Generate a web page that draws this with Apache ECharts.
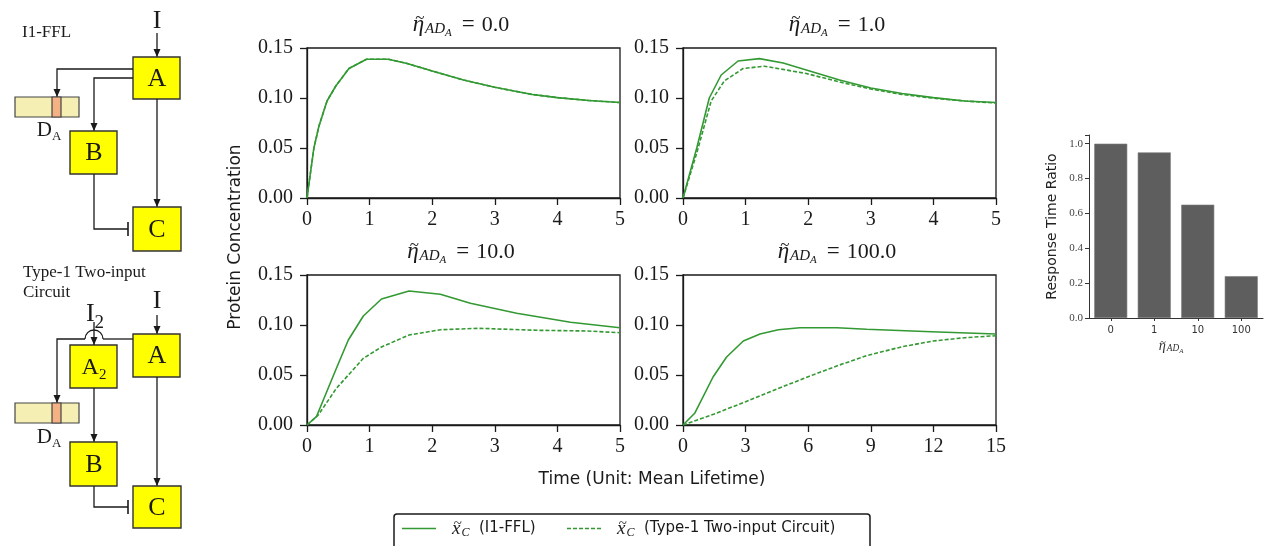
<!DOCTYPE html>
<html>
<head>
<meta charset="utf-8">
<script src="https://cdn.jsdelivr.net/npm/echarts@6/dist/echarts.min.js"></script>
<style>
html, body { margin: 0; padding: 0; background: #fff; }
#chart { width: 1265px; height: 546px; }
</style>
</head>
<body>
<div id="chart"></div>
<script>
// ---- data ----
const etaLabels = ['0.0', '1.0', '10.0', '100.0']

// eta = 0 : both circuits give the same curve
const tEta0 = [0, 0.11, 0.19, 0.32, 0.46, 0.67, 0.95, 1.3, 1.6, 2.0, 2.5, 3.0, 3.6, 4.0, 4.5, 5.0]
const fflEta0 = [0, 0.05, 0.0717, 0.097, 0.112, 0.1295, 0.1388, 0.1388, 0.1345, 0.127, 0.118, 0.1107, 0.1035, 0.1004, 0.0975, 0.0955]
const twoEta0 = [0, 0.05, 0.0717, 0.097, 0.112, 0.1295, 0.1388, 0.1388, 0.1345, 0.127, 0.118, 0.1107, 0.1035, 0.1004, 0.0975, 0.0955]

// eta = 1
const tFflEta1 = [0, 0.22, 0.42, 0.61, 0.88, 1.22, 1.6, 1.97, 2.5, 3.0, 3.5, 4.0, 4.5, 5.0]
const fflEta1 = [0, 0.05, 0.10, 0.123, 0.137, 0.1394, 0.135, 0.128, 0.118, 0.110, 0.1045, 0.1004, 0.097, 0.0955]
const tTwoEta1 = [0, 0.22, 0.45, 0.66, 0.96, 1.3, 1.97, 2.5, 3.0, 3.5, 4.0, 4.5, 5.0]
const twoEta1 = [0, 0.045, 0.097, 0.117, 0.1295, 0.1318, 0.1245, 0.116, 0.109, 0.1035, 0.0998, 0.097, 0.095]

// eta = 10
const tFflEta10 = [0, 0.15, 0.47, 0.66, 0.9, 1.19, 1.63, 2.13, 2.61, 3.35, 4.21, 5.0]
const fflEta10 = [0, 0.0083, 0.0567, 0.085, 0.109, 0.126, 0.134, 0.1307, 0.1217, 0.1117, 0.1027, 0.0973]
const tTwoEta10 = [0, 0.18, 0.47, 0.9, 1.19, 1.63, 2.13, 2.74, 3.68, 4.48, 5.0]
const twoEta10 = [0, 0.010, 0.0367, 0.0667, 0.078, 0.090, 0.0953, 0.0967, 0.0947, 0.094, 0.0923]

// eta = 100
const tFflEta100 = [0, 0.56, 1.44, 2.09, 2.89, 3.69, 4.57, 5.6, 7.38, 8.8, 11.9, 15]
const fflEta100 = [0, 0.0117, 0.048, 0.068, 0.084, 0.091, 0.0953, 0.0973, 0.0973, 0.0957, 0.0933, 0.091]
const tTwoEta100 = [0, 1.5, 3, 4.5, 6, 7.5, 8.8, 10.5, 12, 13.5, 15]
const twoEta100 = [0, 0.011, 0.0233, 0.036, 0.0483, 0.060, 0.0693, 0.0783, 0.084, 0.0873, 0.0893]

const timeMax = [5, 5, 5, 15]
const timeStep = [1, 1, 1, 3]

// response time ratio bar chart
const ratioCats = ['0', '1', '10', '100']
const ratioVals = [1.0, 0.95, 0.65, 0.24]

// ---- helpers ----
const ink = '#1a1a1a'
const green = '#339933'
const serif = 'Liberation Serif'
const sans = 'DejaVu Sans'
const pairs = (t, y) => t.map((v, i) => [v, y[i]])

const measureCtx = document.createElement('canvas').getContext('2d')
function tw(str, size, italic, family) {
  measureCtx.font = (italic ? 'italic ' : '') + size + 'px "' + (family || serif) + '"'
  return measureCtx.measureText(str).width
}

function text(x, y, str, size, extra) {
  return {
    type: 'text', x: x, y: y,
    style: Object.assign({
      text: str, fontFamily: serif, fontSize: size, fill: ink,
      align: 'center', verticalAlign: 'middle', textAlign: 'center', textVerticalAlign: 'middle'
    }, extra || {})
  }
}

// eta~_{AD_A} (= value) drawn as rich text, with the tilde laid over the eta
function etaLabel(cx, cy, k, value, color) {
  const c = color || ink
  const sz = {e: 23 * k, a: 15 * k, b: 11 * k, q: 23 * k, v: 22 * k}
  const rich = {
    e: {fontFamily: serif, fontStyle: 'italic', fontSize: sz.e, color: c},
    a: {fontFamily: serif, fontStyle: 'italic', fontSize: sz.a, color: c, padding: [8 * k, 0, 0, 1]},
    b: {fontFamily: serif, fontStyle: 'italic', fontSize: sz.b, color: c, padding: [16 * k, 0, 0, 0]},
    q: {fontFamily: serif, fontSize: sz.q, color: c, padding: [0, 7, 0, 10]},
    v: {fontFamily: serif, fontSize: sz.v, color: c}
  }
  const wE = tw('\u03b7', sz.e, true)
  let W = wE + tw('AD', sz.a, true) + 1 + tw('A', sz.b, true)
  let str = '{e|\u03b7}{a|AD}{b|A}'
  if (value) {
    W += tw('=', sz.q) + 17 + tw(value, sz.v)
    str += '{q|=}{v|' + value + '}'
  }
  const left = cx - W / 2
  return [
    {type: 'text', x: left, y: cy, style: {text: str, rich: rich, fill: c,
      align: 'left', verticalAlign: 'middle', textAlign: 'left', textVerticalAlign: 'middle'}},
    text(left + wE / 2 + 1.5 * k, cy - 6 * k, '~', 17 * k, {fill: c})
  ]
}

function box(x, y, w, h) {
  return {type: 'rect', shape: {x: x, y: y, width: w, height: h}, style: {fill: '#ffff00', stroke: '#333', lineWidth: 1.4}}
}
function wire(points) {
  return {type: 'polyline', shape: {points: points}, style: {fill: null, stroke: ink, lineWidth: 1.3}}
}
function head(x, y) {
  return {type: 'polygon', shape: {points: [[x, y], [x - 3.5, y - 8], [x + 3.5, y - 8]]}, style: {fill: ink}}
}
function stopBar(x, y) {
  return {type: 'line', shape: {x1: x, y1: y - 7, x2: x, y2: y + 7}, style: {stroke: ink, lineWidth: 1.6}}
}
function decoy(x, y) {
  return [
    {type: 'rect', shape: {x: x, y: y, width: 64, height: 20}, style: {fill: '#f6efb4', stroke: '#444', lineWidth: 1.2}},
    {type: 'rect', shape: {x: x + 37, y: y, width: 9, height: 20}, style: {fill: '#f4b183', stroke: '#444', lineWidth: 1.2}}
  ]
}
const subRich = (big, small, drop) => ({
  m: {fontFamily: serif, fontSize: big, color: ink},
  s: {fontFamily: serif, fontSize: small, color: ink, padding: [drop, 0, 0, 0]}
})

// ---- circuit diagrams ----
const diagram = [
  text(22, 33, 'I1-FFL', 17, {align: 'left', textAlign: 'left'}),
  text(157, 21, 'I', 26),
  wire([[157, 33], [157, 57]]), head(157, 57),
  box(133, 57, 47, 42), text(157, 79, 'A', 26),
  wire([[133, 69], [57, 69], [57, 97]]), head(57, 97),
  wire([[133, 78], [94, 78], [94, 131]]), head(94, 131),
  ...decoy(15, 97),
  text(49, 130, '{m|D}{s|A}', 20, {rich: subRich(21, 13, 14)}),
  box(70, 131, 47, 43), text(94, 153, 'B', 26),
  wire([[94, 174], [94, 229], [128, 229]]), stopBar(128, 229),
  wire([[157, 99], [157, 207]]), head(157, 207),
  box(133, 207, 48, 44), text(157, 230, 'C', 26),

  text(23, 273, 'Type-1 Two-input', 17, {align: 'left', textAlign: 'left'}),
  text(23, 293, 'Circuit', 17, {align: 'left', textAlign: 'left'}),
  text(157, 301, 'I', 26),
  text(95, 314, '{m|I}{s|2}', 26, {rich: subRich(26, 19, 18)}),
  wire([[157, 315], [157, 334]]), head(157, 334),
  box(133, 334, 47, 43), text(157, 356, 'A', 26),
  box(70, 345, 47, 43), text(94, 368, '{m|A}{s|2}', 24, {rich: subRich(24, 15, 14)}),
  wire([[94, 322], [94, 345]]), head(94, 345),
  wire([[133, 339], [103, 339]]),
  {type: 'arc', shape: {cx: 94, cy: 339, r: 9, startAngle: Math.PI, endAngle: 2 * Math.PI, clockwise: true}, style: {fill: null, stroke: ink, lineWidth: 1.3}},
  wire([[85, 339], [57, 339], [57, 403]]), head(57, 403),
  ...decoy(15, 403),
  text(49, 437, '{m|D}{s|A}', 20, {rich: subRich(21, 13, 14)}),
  wire([[94, 388], [94, 442]]), head(94, 442),
  box(70, 442, 47, 44), text(94, 465, 'B', 26),
  wire([[94, 486], [94, 507], [128, 507]]), stopBar(128, 507),
  wire([[157, 377], [157, 486]]), head(157, 486),
  box(133, 486, 48, 42), text(157, 508, 'C', 26)
]

// ---- panel layout ----
const panels = [
  {left: 307, top: 48, cx: 463, ty: 25},
  {left: 683, top: 48, cx: 839, ty: 25},
  {left: 307, top: 275, cx: 463, ty: 252},
  {left: 683, top: 275, cx: 839, ty: 252}
]

const titles = []
panels.forEach((p, i) => titles.push(...etaLabel(p.cx - 2, p.ty, 1, etaLabels[i])))

const grids = panels.map(p => ({
  left: p.left, top: p.top, width: 313, height: 150,
  show: true, borderColor: ink, borderWidth: 1.3, backgroundColor: 'transparent',
  containLabel: false, outerBoundsMode: 'none'
}))
grids.push({left: 1089, top: 135, width: 174, height: 183, containLabel: false, outerBoundsMode: 'none'})

const xAxes = panels.map((p, i) => ({
  type: 'value', gridIndex: i, min: 0, max: timeMax[i], interval: timeStep[i],
  axisLine: {show: true, lineStyle: {color: ink, width: 1.3}},
  axisTick: {show: true, length: 7, lineStyle: {color: ink, width: 1.3}},
  axisLabel: {fontFamily: serif, fontSize: 20, color: ink, margin: 12},
  splitLine: {show: false}
}))
xAxes.push({
  type: 'category', gridIndex: 4, data: ratioCats,
  axisLine: {show: true, lineStyle: {color: '#333', width: 1}},
  axisTick: {show: true, alignWithLabel: true, length: 3, lineStyle: {color: '#333'}},
  axisLabel: {fontFamily: sans, fontSize: 10, color: '#333', margin: 7}
})

const yAxes = panels.map((p, i) => ({
  type: 'value', gridIndex: i, min: 0, max: 0.15, interval: 0.05,
  axisLine: {show: true, lineStyle: {color: ink, width: 1.3}},
  axisTick: {show: true, length: 7, lineStyle: {color: ink, width: 1.3}},
  axisLabel: {fontFamily: serif, fontSize: 20, color: ink, margin: 14, formatter: v => v.toFixed(2)},
  splitLine: {show: false}
}))
yAxes.push({
  type: 'value', gridIndex: 4, min: 0, max: 1.05, interval: 0.2,
  axisLine: {show: true, lineStyle: {color: '#333', width: 1}},
  axisTick: {show: true, length: 4, lineStyle: {color: '#333'}},
  axisLabel: {fontFamily: serif, fontSize: 11, color: '#444', margin: 6,
    formatter: v => Math.abs(v * 5 - Math.round(v * 5)) < 1e-6 ? v.toFixed(1) : ''},
  splitLine: {show: false},
  name: 'Response Time Ratio', nameLocation: 'middle', nameGap: 30, nameRotate: 90,
  nameTextStyle: {fontFamily: sans, fontSize: 14, color: '#222'}
})

const curves = [
  [pairs(tEta0, fflEta0), pairs(tEta0, twoEta0)],
  [pairs(tFflEta1, fflEta1), pairs(tTwoEta1, twoEta1)],
  [pairs(tFflEta10, fflEta10), pairs(tTwoEta10, twoEta10)],
  [pairs(tFflEta100, fflEta100), pairs(tTwoEta100, twoEta100)]
]

const series = []
curves.forEach((c, i) => {
  series.push({
    name: 'I1-FFL', type: 'line', xAxisIndex: i, yAxisIndex: i, data: c[0],
    symbol: 'none', color: green, lineStyle: {color: green, width: 1.6, type: 'solid'}, z: 3
  })
  series.push({
    name: 'Type-1 Two-input Circuit', type: 'line', xAxisIndex: i, yAxisIndex: i, data: c[1],
    symbol: 'none', color: green, lineStyle: {color: green, width: 1.6, type: [4, 2]}, z: 2
  })
})
series.push({
  type: 'bar', xAxisIndex: 4, yAxisIndex: 4, data: ratioVals, barWidth: 33,
  itemStyle: {color: '#5e5e5e', borderColor: '#7a7a7a', borderWidth: 0.6}
})

// legend: line-shaped icons, x~_C label
const solidIcon = 'path://M0,0h34v1.6h-34z'
const dashIcon = 'path://M0,0h4v1.6h-4z M6,0h4v1.6h-4z M12,0h4v1.6h-4z M18,0h4v1.6h-4z M24,0h4v1.6h-4z M30,0h4v1.6h-4z'
const legendRich = {
  m: {fontFamily: serif, fontStyle: 'italic', fontSize: 19, color: ink, padding: [0, 0, 0, 11]},
  s: {fontFamily: serif, fontStyle: 'italic', fontSize: 12, color: ink, padding: [8, 0, 0, 1]},
  t: {fontFamily: sans, fontSize: 15, color: ink}
}
const legendBase = {
  top: 519, padding: 0, itemWidth: 34, itemHeight: 1.6, selectedMode: false,
  formatter: name => '{m|x}{s|C}{t|  (' + name + ')}',
  textStyle: {rich: legendRich}
}
const legendLefts = [402, 567]
const xWidth = tw('x', 19, true)
const legendTildes = legendLefts.map(l => text(l + 34 + 5 + 11 + xWidth / 2 + 1.5, 524, '~', 15))

const option = {
  animation: false,
  backgroundColor: '#fff',
  grid: grids,
  xAxis: xAxes,
  yAxis: yAxes,
  series: series,
  legend: [
    Object.assign({}, legendBase, {left: legendLefts[0], data: [{name: 'I1-FFL', icon: solidIcon}]}),
    Object.assign({}, legendBase, {left: legendLefts[1], data: [{name: 'Type-1 Two-input Circuit', icon: dashIcon}]})
  ],
  graphic: {elements: [
    ...diagram,
    ...titles,
    ...etaLabel(1171, 346, 0.62, null, '#333'),
    ...legendTildes,
    Object.assign(text(236, 237, 'Protein Concentration', 17, {fontFamily: sans}), {rotation: Math.PI / 2}),
    text(652, 480, 'Time (Unit: Mean Lifetime)', 17, {fontFamily: sans}),
    {type: 'rect', shape: {x: 394, y: 514, width: 476, height: 50, r: 3}, style: {fill: null, stroke: ink, lineWidth: 1.5}}
  ]}
}

const chart = echarts.init(document.getElementById('chart'))
chart.setOption(option)
window.addEventListener('resize', function () {
  chart.resize()
})
</script>
</body>
</html>
